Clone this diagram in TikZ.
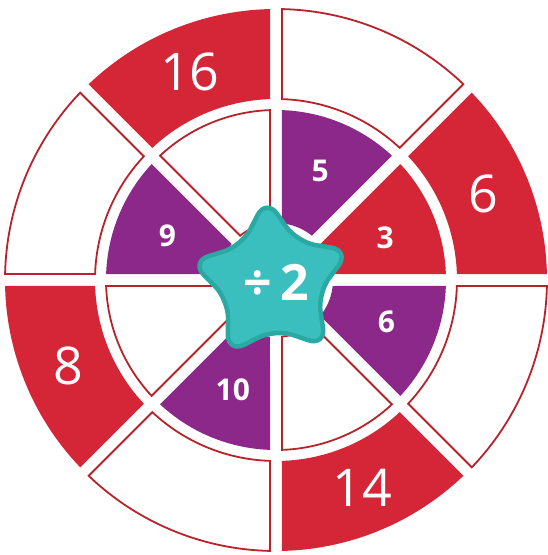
\documentclass[tikz,border=0pt]{standalone}
\usepackage{fontspec}
\setmainfont{Open Sans}
\definecolor{rred}{HTML}{D52638}
\definecolor{ppurple}{HTML}{8B2889}
\definecolor{oline}{HTML}{B7232B}
\definecolor{teal1}{HTML}{3BBFBE}
\definecolor{teal2}{HTML}{2AA8A3}
\newcommand\annsect[5]{%
  \path[#5] ({#1+asin(6/#4)}:#4pt) arc[start angle={#1+asin(6/#4)}, end angle={#2-asin(6/#4)}, radius=#4pt]
    -- ({#2-asin(6/#3)}:#3pt) arc[start angle={#2-asin(6/#3)}, end angle={#1+asin(6/#3)}, radius=#3pt] -- cycle;}
\tikzset{
  redsec/.style={fill=rred},
  purpsec/.style={fill=ppurple},
  whitesec/.style={fill=white,draw=oline,line width=1.8pt,line join=miter},
  outerlbl/.style={text=white,font=\fontsize{52}{52}\selectfont,inner sep=0pt},
  innerlbl/.style={text=white,font=\fontsize{30}{30}\selectfont\bfseries,inner sep=0pt},
  starshape/.style={fill=teal1,draw=teal2,line width=4.5pt,rounded corners=19pt,line join=round}
}
\begin{document}
\begin{tikzpicture}[x=1pt,y=1pt]
\useasboundingbox (-276,-275) rectangle (272,280);
% outer ring
\annsect{0}{45}{181}{271}{redsec}
\annsect{45}{90}{181}{271}{whitesec}
\annsect{90}{135}{181}{271}{redsec}
\annsect{135}{180}{181}{271}{whitesec}
\annsect{180}{225}{181}{271}{redsec}
\annsect{225}{270}{181}{271}{whitesec}
\annsect{270}{315}{181}{271}{redsec}
\annsect{315}{360}{181}{271}{whitesec}
% inner ring
\annsect{0}{45}{57}{170}{redsec}
\annsect{45}{90}{57}{170}{purpsec}
\annsect{90}{135}{57}{170}{whitesec}
\annsect{135}{180}{57}{170}{purpsec}
\annsect{180}{225}{57}{170}{whitesec}
\annsect{225}{270}{57}{170}{purpsec}
\annsect{270}{315}{57}{170}{whitesec}
\annsect{315}{360}{57}{170}{purpsec}
% outer labels
\node[outerlbl] (o1) at (22.5:225) {6};
\node[outerlbl] (o2) at (112.5:225) {16};
\node[outerlbl] (o3) at (202.5:225) {8};
\node[outerlbl] (o4) at (292.5:225) {14};
% inner labels
\node[innerlbl] (i1) at (21:117) {3};
\node[innerlbl] (i2) at (68:118) {5};
\node[innerlbl] (i3) at (158:117) {9};
\node[innerlbl] (i4) at (248.5:118) {10};
\node[innerlbl] (i5) at (339.5:118) {6};
% star
\begin{scope}[shift={(-4,-2)}]
\path[starshape] (94:84) -- (130:47) -- (166:84) -- (202:47) -- (238:84) -- (274:47) -- (310:84) -- (346:47) -- (22:84) -- (58:47) -- cycle;
\node[text=white,font=\fontsize{50}{50}\selectfont\bfseries,inner sep=0pt] (st) at (4,0) {÷\,2};
\end{scope}
\end{tikzpicture}
\end{document}
